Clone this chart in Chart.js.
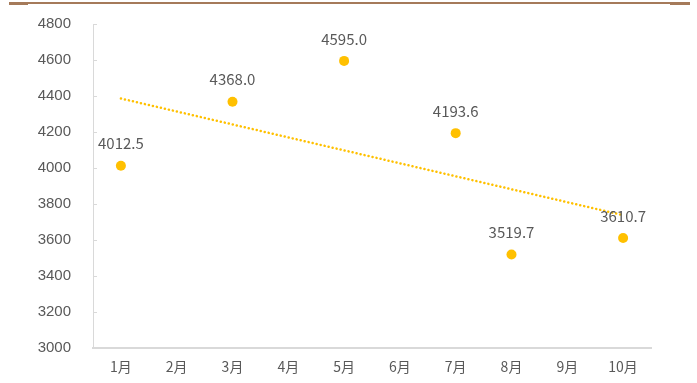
<!DOCTYPE html>
<html>
<head>
<meta charset="utf-8">
<script src="https://cdn.jsdelivr.net/npm/chart.js@4/dist/chart.umd.min.js"></script>
<style>
  html, body { margin: 0; padding: 0; background: #fff; }
  #wrap { position: relative; width: 697px; height: 383px; }
  #chart { display: block; }
  #topline { position: absolute; left: 9px; top: 2px; width: 681px; height: 0; border-top: 2px solid #A57A5A; }
  #topline:before { content: ''; position: absolute; left: 0; top: -2px; width: 19px; height: 3px; background: #A57A5A; }
  #topline:after { content: ''; position: absolute; right: 0; top: -2px; width: 20px; height: 3px; background: #A57A5A; }
</style>
</head>
<body>
<div id="wrap">
  <canvas id="chart" width="697" height="383"></canvas>
  <div id="topline"></div>
</div>
<script>
// datos
const months = ['1月', '2月', '3月', '4月', '5月', '6月', '7月', '8月', '9月', '10月'];
const values = [4012.5, null, 4368.0, null, 4595.0, null, 4193.6, 3519.7, null, 3610.7];
// linea de tendencia (extremos)
const trend = [4386, null, null, null, null, null, null, null, null, 3738];
const yTicks = [3000, 3200, 3400, 3600, 3800, 4000, 4200, 4400, 4600, 4800];

const gold = '#FFC000';
const textGray = '#595959';
const axisGray = '#D9D9D9';

// etiquetas sobre los puntos
const labelPlugin = {
    id: 'labels',
    afterDatasetsDraw(chart) {
        const ctx = chart.ctx;
        const meta = chart.getDatasetMeta(0);
        ctx.save();
        ctx.fillStyle = textGray;
        ctx.font = '15px "Noto Sans CJK SC", "DejaVu Sans", sans-serif';
        ctx.textAlign = 'center';
        ctx.textBaseline = 'middle';
        meta.data.forEach((pt, i) => {
            if (values[i] == null) return;
            ctx.fillText(values[i].toFixed(1), pt.x, pt.y - 22);
        });
        ctx.restore();
    }
};

// marcas cortas hacia dentro en el eje y
const innerTicks = {
    id: 'innerTicks',
    afterDraw(chart) {
        const ctx = chart.ctx;
        const y = chart.scales.y;
        ctx.save();
        ctx.strokeStyle = axisGray;
        ctx.lineWidth = 1;
        y.ticks.forEach(t => {
            const py = Math.round(y.getPixelForValue(t.value)) + 0.5;
            ctx.beginPath();
            ctx.moveTo(y.right, py);
            ctx.lineTo(y.right + 4, py);
            ctx.stroke();
        });
        ctx.restore();
    }
};

var ctxChart = document.getElementById('chart').getContext('2d');

var chart = new Chart(ctxChart, {
    type: 'line',
    data: {
        labels: months,
        datasets: [{
            data: values,
            showLine: false,
            pointRadius: 5,
            pointHoverRadius: 5,
            pointBackgroundColor: gold,
            pointBorderColor: gold,
            pointBorderWidth: 0
        }, {
            data: trend,
            spanGaps: true,
            borderColor: gold,
            borderWidth: 2.5,
            borderCapStyle: 'round',
            borderDash: [0.1, 4],
            pointRadius: 0,
            fill: false
        }]
    },
    options: {
        responsive: false,
        animation: false,
        events: [],
        layout: { padding: { left: 0, right: 46, top: 24, bottom: 0 } },
        plugins: {
            legend: { display: false },
            tooltip: { enabled: false }
        },
        scales: {
            x: {
                offset: true,
                grid: { display: false, drawTicks: false },
                border: { display: true, color: axisGray, width: 2 },
                ticks: {
                    color: textGray,
                    padding: 10,
                    maxRotation: 0,
                    autoSkip: false,
                    font: { family: '"Noto Sans CJK SC", sans-serif', size: 14 }
                },
                afterFit(scale) {
                    scale.height = 35;
                    scale.paddingLeft = 0;
                    scale.paddingRight = 0;
                }
            },
            y: {
                min: 3000,
                max: 4800,
                afterBuildTicks(scale) { scale.ticks = yTicks.map(v => ({ value: v })); },
                grid: { display: false, drawTicks: false },
                border: { display: true, color: axisGray, width: 1 },
                ticks: {
                    color: textGray,
                    padding: 22,
                    callback: v => String(v),
                    font: { family: '"Liberation Sans", Arial, sans-serif', size: 15 }
                },
                afterFit(scale) {
                    scale.width = 93;
                    scale.paddingTop = 0;
                    scale.paddingBottom = 0;
                }
            }
        }
    },
    plugins: [labelPlugin, innerTicks]
});
</script>
</body>
</html>
